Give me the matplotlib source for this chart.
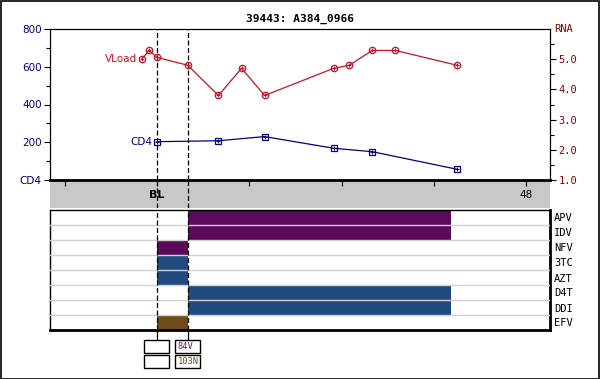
import numpy as np
import matplotlib
matplotlib.use('Agg')
from matplotlib import pyplot as plt
from matplotlib import transforms
from matplotlib.patches import Rectangle
from matplotlib.lines import Line2D

# ---- data (weeks relative to baseline) ----
vl_weeks = [-2, -1, 0, 4, 8, 11, 14, 23, 25, 28, 31, 39]
vl_rna = [5.0, 5.29, 5.06, 4.8, 3.8, 4.7, 3.8, 4.7, 4.8, 5.29, 5.29, 4.8]

cd4_weeks = [0, 8, 14, 23, 28, 39]
cd4_vals = [203, 208, 230, 168, 150, 57]

drugs = ['APV', 'IDV', 'NFV', '3TC', 'AZT', 'D4T', 'DDI', 'EFV']
drug_start = [4, 4, 0, 0, 0, 4, 4, 0]
drug_stop = [38.2, 38.2, 4, 4, 4, 38.2, 38.2, 4]
drug_class = ['pi', 'pi', 'pi', 'nrti', 'nrti', 'nrti', 'nrti', 'nnrti']

mut_weeks = [0, 4]
mut_row1 = ['', '84V']
mut_row2 = ['', '103N']

bar_col = {'pi': '#5c0a5c', 'nrti': '#1f4b80', 'nnrti': '#6e4b18'}
txt_col = {'pi': '#6a1a6a', 'nrti': '#2a3f6a', 'nnrti': '#6e4b18'}
mut_col = ['#6a1a6a', '#6e4b18']

navy = '#000080'
red = '#d01020'
dred = '#8b0000'
XMIN, XMAX = -13.9, 51.1

fig = plt.figure(figsize=(6.0, 3.79), dpi=100)
fig.add_artist(Rectangle((0.001, 0.001), 0.997, 0.996, transform=fig.transFigure,
                         fill=False, edgecolor='black', linewidth=1.2))

W = 600.0
H = 379.0
def box(l, t, r, b):
    return [l / W, 1 - b / H, (r - l) / W, (b - t) / H]

# ---- grey band (made first so the axis ticks sit on top of it) ----
band = fig.add_axes(box(50, 181, 550, 208))
band.set_facecolor('#c8c8c8')
band.set_xlim(XMIN, XMAX)
band.set_ylim(0, 1)
band.set_xticks([])
band.set_yticks([])
for s in band.spines.values():
    s.set_visible(False)
band.text(0, 0.5, 'BL', ha='center', va='center', fontsize=8, fontweight='bold')
band.text(48, 0.5, '48', ha='center', va='center', fontsize=7.5)
for w in [0, 4]:
    band.axvline(w, color='black', linestyle=(0, (4, 2)), linewidth=0.9)

# ---- top panel ----
ax = fig.add_axes(box(50, 29, 550, 180))
ax.plot(cd4_weeks, cd4_vals, '-', color=navy, linewidth=0.9)
ax.plot(cd4_weeks, cd4_vals, 's', color=navy, mfc='none', ms=4.2, mew=0.9)
ax.plot(cd4_weeks, cd4_vals, '+', color=navy, ms=3, mew=0.7)
ax.set_xlim(XMIN, XMAX)
ax.set_ylim(0, 800)
ax.set_yticks([0, 200, 400, 600, 800])
ax.set_yticklabels(['CD4', '200', '400', '600', '800'], color=navy, fontsize=7.5)
ax.set_yticks([100, 300, 500, 700], minor=True)
ax.set_xticks([-12, 0, 12, 24, 36, 48])
ax.set_xticklabels([])
ax.tick_params(axis='y', length=4, width=0.8, pad=2)
ax.tick_params(axis='y', which='minor', length=3, width=0.8)
ax.tick_params(axis='x', length=4, width=0.8)
ax.spines['bottom'].set_linewidth(2)
for s in ['left', 'top', 'right']:
    ax.spines[s].set_linewidth(0.8)
ax.text(cd4_weeks[0] - 0.6, cd4_vals[0], 'CD4', color=navy, fontsize=7.5,
        ha='right', va='center')

ax2 = ax.twinx()
ax2.plot(vl_weeks, vl_rna, '-', color=red, linewidth=0.9)
ax2.plot(vl_weeks, vl_rna, 'o', color=red, mfc='none', ms=4.6, mew=0.9)
ax2.plot(vl_weeks, vl_rna, '+', color=red, ms=3, mew=0.7)
ax2.set_ylim(1.0, 6.0)
ax2.set_xlim(XMIN, XMAX)
ax2.set_yticks([1, 2, 3, 4, 5])
ax2.set_yticklabels(['1.0', '2.0', '3.0', '4.0', '5.0'], color=dred, fontsize=7.5,
                    family='DejaVu Sans Mono')
ax2.set_yticks([1.5, 2.5, 3.5, 4.5, 5.5], minor=True)
ax2.tick_params(axis='y', length=4, width=0.8, pad=2)
ax2.tick_params(axis='y', which='minor', length=3, width=0.8)
ax2.text(1.008, 1.0, 'RNA', transform=ax2.transAxes, color=dred, fontsize=7.5,
         family='DejaVu Sans Mono', ha='left', va='center')
ax2.text(vl_weeks[0] - 0.6, vl_rna[0], 'VLoad', color=red, fontsize=7.5,
         ha='right', va='center')
for w in [0, 4]:
    ax.axvline(w, color='black', linestyle=(0, (4, 2)), linewidth=0.9)

fig.text(0.5, 1 - 19 / H, '39443: A384_0966', ha='center', va='center',
         fontsize=8, fontweight='bold', family='DejaVu Sans Mono')

# ---- drug panel ----
dx = fig.add_axes(box(50, 210, 550, 330))
dx.set_xlim(XMIN, XMAX)
dx.set_ylim(len(drugs), 0)
for i, d in enumerate(drugs):
    dx.barh(i + 0.5, drug_stop[i] - drug_start[i], left=drug_start[i], height=1.0,
            color=bar_col[drug_class[i]], linewidth=0)
for i in range(1, len(drugs)):
    dx.axhline(i, color='#d0d0d0', linewidth=1, zorder=3)
dx.set_xticks([])
dx.set_yticks(np.arange(len(drugs)) + 0.5)
dx.set_yticklabels(drugs, fontsize=7.5, family='DejaVu Sans Mono')
for lab, c in zip(dx.get_yticklabels(), drug_class):
    lab.set_color(txt_col[c])
dx.yaxis.tick_right()
dx.tick_params(axis='y', length=0, pad=3)
dx.spines['bottom'].set_linewidth(2)
dx.spines['right'].set_linewidth(2)
dx.spines['left'].set_linewidth(1)
dx.spines['top'].set_linewidth(1)
for w in [0, 4]:
    dx.axvline(w, color='black', linestyle=(0, (4, 2)), linewidth=0.9, zorder=4)

# mutation boxes below the panel
tr = transforms.blended_transform_factory(dx.transData, dx.transAxes)
ph = 120.0
bw = 3.25
for w, m1, m2 in zip(mut_weeks, mut_row1, mut_row2):
    dx.add_line(Line2D([w, w], [0, -10 / ph], transform=tr, color='black',
                       linewidth=0.9, clip_on=False))
    for (t, b), m, c in zip([(340, 352.5), (355, 368)], [m1, m2], mut_col):
        y0 = -(b - 330) / ph
        hh = (b - t) / ph
        dx.add_patch(Rectangle((w - bw / 2, y0), bw, hh, transform=tr, fill=False,
                               edgecolor='black', linewidth=1, clip_on=False))
        if m:
            dx.text(w - bw / 2 + 0.3, y0 + hh / 2, m, transform=tr, color=c,
                    fontsize=6.3, family='DejaVu Sans Mono', ha='left', va='center')

fig.savefig('out.png', dpi=100)
